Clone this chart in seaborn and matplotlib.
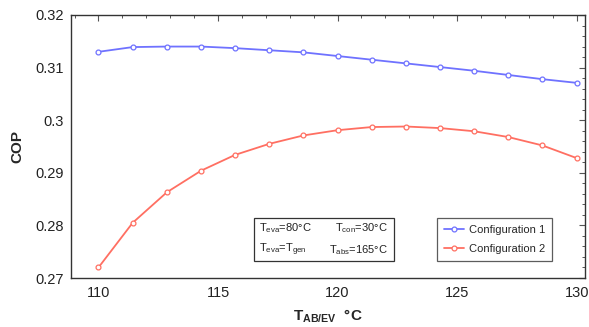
import numpy as np
import pandas as pd
import matplotlib
matplotlib.use("Agg")
import matplotlib.pyplot as plt
import seaborn as sns
from matplotlib.patches import Rectangle
from matplotlib.ticker import MultipleLocator, FuncFormatter

# ---- data ----
t_abev = [110.0, 111.43, 112.86, 114.29, 115.71, 117.14, 118.57, 120.0,
          121.43, 122.86, 124.29, 125.71, 127.14, 128.57, 130.0]
cop_config1 = [0.3130, 0.3139, 0.3140, 0.3140, 0.3137, 0.3133, 0.3129, 0.3122,
               0.3115, 0.3108, 0.3101, 0.3094, 0.3086, 0.3078, 0.3071]
cop_config2 = [0.2720, 0.2805, 0.2863, 0.2904, 0.2934, 0.2955, 0.2971, 0.2981,
               0.2987, 0.2988, 0.2985, 0.2979, 0.2968, 0.2952, 0.2928]
series_names = ["Configuration 1", "Configuration 2"]
x_ticks = [110, 115, 120, 125, 130]
y_ticks = [0.27, 0.28, 0.29, 0.30, 0.31, 0.32]

df = pd.DataFrame({
    "T": t_abev * 2,
    "COP": cop_config1 + cop_config2,
    "Config": [series_names[0]] * len(t_abev) + [series_names[1]] * len(t_abev),
})

sns.set_theme(style="white")
plt.rcParams["font.family"] = ["Liberation Sans", "DejaVu Sans"]
plt.rcParams["mathtext.fontset"] = "custom"
plt.rcParams["mathtext.rm"] = "Liberation Sans"
plt.rcParams["mathtext.it"] = "Liberation Sans:italic"
plt.rcParams["mathtext.bf"] = "Liberation Sans:bold"

fig = plt.figure(figsize=(5.89, 3.27), dpi=100)
ax = fig.add_axes([71 / 589, 1 - 278 / 327, (585 - 71) / 589, (278 - 15) / 327])

palette = {series_names[0]: "#6f72ff", series_names[1]: "#ff6f62"}
sns.lineplot(data=df, x="T", y="COP", hue="Config", palette=palette,
             marker="o", markersize=3.5, linewidth=1.3, legend=False, ax=ax)
for line in ax.lines:
    line.set_markerfacecolor("white")
    line.set_markeredgecolor(line.get_color())
    line.set_markeredgewidth(0.9)

ax.set_xlim(108.85, 130.35)
ax.set_ylim(0.27, 0.32)
ax.set_xticks(x_ticks)
ax.set_yticks(y_ticks)
ax.xaxis.set_minor_locator(MultipleLocator(1))
ax.yaxis.set_minor_locator(MultipleLocator(0.002))
ax.yaxis.set_major_formatter(FuncFormatter(lambda v, p: f"{v:g}"))
ax.tick_params(which="both", direction="in", top=True, right=True,
               color="#555555", labelsize=10.5, labelcolor="#222222")
ax.tick_params(which="major", length=4, width=0.8)
ax.tick_params(which="minor", length=2.5, width=0.7)
ax.tick_params(axis="x", pad=6)
ax.tick_params(axis="y", pad=5)
for s in ax.spines.values():
    s.set_color("#333333")
    s.set_linewidth(1.0)

ax.set_xlabel(r"$\mathbf{T_{AB/EV}}$  °C", fontsize=11, fontweight="bold", labelpad=5)
ax.set_ylabel("COP", fontsize=11, fontweight="bold", labelpad=8)

# condition box
ax.add_patch(Rectangle((0.356, 0.065), 0.272, 0.163, transform=ax.transAxes,
                       fill=False, edgecolor="#333333", linewidth=0.9))
fs = 8
ax.text(0.366, 0.19, r"T$_{\rm eva}$=80°C", transform=ax.transAxes, fontsize=fs,
        ha="left", va="center", color="#222222")
ax.text(0.617, 0.19, r"T$_{\rm con}$=30°C", transform=ax.transAxes, fontsize=fs,
        ha="right", va="center", color="#222222")
ax.text(0.366, 0.106, r"T$_{\rm eva}$=T$_{\rm gen}$", transform=ax.transAxes, fontsize=fs,
        ha="left", va="center", color="#222222")
ax.text(0.617, 0.106, r"T$_{\rm abs}$=165°C", transform=ax.transAxes, fontsize=fs,
        ha="right", va="center", color="#222222")

leg = ax.legend(handles=ax.lines[:2], labels=series_names, loc="upper left",
                bbox_to_anchor=(0.712, 0.228), fontsize=8, frameon=True,
                fancybox=False, handlelength=1.8, handletextpad=0.4,
                borderpad=0.65, labelspacing=0.75, borderaxespad=0)
leg.get_frame().set_edgecolor("#333333")
leg.get_frame().set_linewidth(0.9)

fig.savefig("out.png", dpi=100)
